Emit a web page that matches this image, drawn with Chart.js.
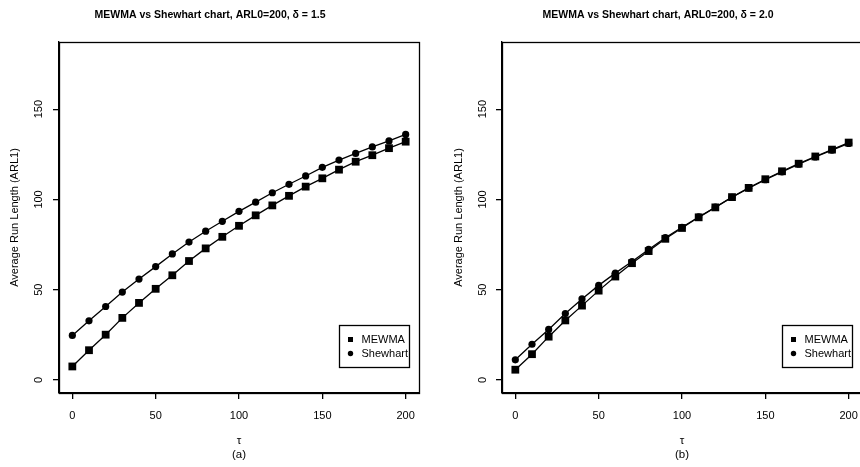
<!DOCTYPE html>
<html>
<head>
<meta charset="utf-8">
<title>MEWMA vs Shewhart</title>
<script src="https://cdn.jsdelivr.net/npm/chart.js@4.4.0/dist/chart.umd.min.js"></script>
<style>
  html, body { margin: 0; padding: 0; background: #fff; overflow: hidden; }
  #wrap { position: relative; width: 860px; height: 467px; overflow: hidden; }
  #panelA { position: absolute; left: 0; top: 0; }
  #panelB { position: absolute; left: 430px; top: 0; }
</style>
</head>
<body>
<div id="wrap">
  <canvas id="panelA" width="430" height="467"></canvas>
  <canvas id="panelB" width="440" height="467"></canvas>
</div>
<script>
// valores (tau = 0..200 de 10 em 10)
const tau = [0, 10, 20, 30, 40, 50, 60, 70, 80, 90, 100, 110, 120, 130, 140, 150, 160, 170, 180, 190, 200];
const xTicks = [0, 50, 100, 150, 200];
const yTicks = [0, 50, 100, 150];

// painel (a), delta = 1.5
const mewmaA = [7.5, 16.5, 25.1, 34.4, 42.7, 50.5, 58, 65.9, 72.9, 79.3, 85.4, 91.2, 96.7, 102, 107.1, 111.7, 116.5, 120.9, 124.5, 128.4, 132];
const shewhartA = [24.7, 32.8, 40.7, 48.7, 55.9, 62.8, 69.8, 76.4, 82.4, 87.9, 93.4, 98.5, 103.7, 108.4, 113, 117.8, 121.8, 125.5, 129.1, 132.4, 136];

// painel (b), delta = 2.0
const mewmaB = [5.7, 14.3, 24, 33, 41.2, 49.5, 57.3, 64.7, 71.4, 78.2, 84.2, 90.1, 95.6, 101.3, 106.4, 111.2, 115.6, 119.8, 123.8, 127.6, 131.5];
const shewhartB = [11.2, 19.8, 28, 36.8, 44.9, 52.4, 59.2, 65.6, 72.3, 78.8, 84.6, 90.3, 95.7, 101.2, 106.2, 110.9, 115.3, 119.5, 123.5, 127.3, 131];

const ink = '#000';
const fontFamily = "'Liberation Sans', Arial, Helvetica, sans-serif";
Chart.defaults.font.family = fontFamily;
Chart.defaults.color = ink;

// caixa em volta da area do grafico (estilo R)
const plotBox = {
  id: 'plotBox',
  afterDraw(chart) {
    const { ctx, chartArea } = chart;
    ctx.save();
    ctx.strokeStyle = ink;
    ctx.lineWidth = 1.3;
    ctx.strokeRect(Math.round(chartArea.left) + 0.5, Math.round(chartArea.top) + 0.5,
      Math.round(chartArea.right - chartArea.left), Math.round(chartArea.bottom - chartArea.top));
    ctx.restore();
  }
};

// titulo do painel
const panelTitle = {
  id: 'panelTitle',
  afterDraw(chart, args, opts) {
    const ctx = chart.ctx;
    ctx.save();
    ctx.font = `bold 10.5px ${fontFamily}`;
    ctx.fillStyle = ink;
    ctx.textAlign = 'center';
    ctx.textBaseline = 'middle';
    ctx.fillText(opts.text, opts.x, opts.y);
    ctx.restore();
  }
};

// legenda com moldura dentro do grafico, canto inferior direito
const boxLegend = {
  id: 'boxLegend',
  afterDraw(chart) {
    const { ctx, chartArea } = chart;
    const w = 70, h = 42;
    const x0 = Math.round(chartArea.right - 10 - w) + 0.5;
    const y0 = Math.round(chartArea.bottom - 26 - h) + 0.5;
    ctx.save();
    ctx.fillStyle = '#fff';
    ctx.fillRect(x0, y0, w, h);
    ctx.strokeStyle = ink;
    ctx.lineWidth = 1.3;
    ctx.strokeRect(x0, y0, w, h);
    ctx.font = `11px ${fontFamily}`;
    ctx.textBaseline = 'middle';
    ctx.textAlign = 'left';
    ctx.fillStyle = ink;
    chart.data.datasets.forEach((ds, i) => {
      const y = y0 + 14 + i * 14;
      if (ds.pointStyle === 'rect') {
        ctx.fillRect(x0 + 8.5, y - 2.5, 5, 5);
      } else {
        ctx.beginPath();
        ctx.arc(x0 + 11, y, 2.7, 0, Math.PI * 2);
        ctx.fill();
      }
      ctx.fillText(ds.label, x0 + 22, y);
    });
    ctx.restore();
  }
};

function criarPainel(canvasId, mewma, shewhart, cfg) {
  const ctx = document.getElementById(canvasId);

  const data = {
    datasets: [
      {
        label: 'MEWMA',
        data: tau.map((t, i) => ({ x: t, y: mewma[i] })),
        borderColor: ink,
        borderWidth: 1.3,
        pointStyle: 'rect',
        pointRadius: 5.5,
        pointBackgroundColor: ink,
        pointBorderWidth: 0,
        tension: 0,
      },
      {
        label: 'Shewhart',
        data: tau.map((t, i) => ({ x: t, y: shewhart[i] })),
        borderColor: ink,
        borderWidth: 1.3,
        pointStyle: 'circle',
        pointRadius: 3.6,
        pointBackgroundColor: ink,
        pointBorderWidth: 0,
        tension: 0,
      },
    ],
  };

  const options = {
    responsive: false,
    animation: false,
    layout: { padding: { top: 42, right: cfg.padRight, left: 0, bottom: 0 } },
    plugins: {
      legend: { display: false },
      tooltip: { enabled: false },
      panelTitle: { text: cfg.title, x: cfg.titleX, y: 15 },
    },
    scales: {
      x: {
        type: 'linear',
        min: -8,
        max: 208,
        afterBuildTicks: (s) => { s.ticks = xTicks.map((v) => ({ value: v })); },
        afterFit: (s) => { s.height = 74; },
        grid: { drawOnChartArea: false, drawTicks: true, tickLength: 6, color: ink, lineWidth: 1.3 },
        border: { display: true, color: ink, width: 1.3 },
        ticks: { padding: 10, maxRotation: 0, font: { size: 11 } },
        title: {
          display: true,
          text: ['τ', cfg.label],
          font: { size: 11.5, lineHeight: 1.25 },
          padding: { top: 0, bottom: 5 },
        },
      },
      y: {
        type: 'linear',
        min: -7.2,
        max: 187.2,
        afterBuildTicks: (s) => { s.ticks = yTicks.map((v) => ({ value: v })); },
        afterFit: (s) => { s.width = cfg.yWidth; },
        grid: { drawOnChartArea: false, drawTicks: true, tickLength: 6, color: ink, lineWidth: 1.3 },
        border: { display: true, color: ink, width: 1.3 },
        ticks: { minRotation: 90, maxRotation: 90, crossAlign: 'center', padding: cfg.yTickPad, font: { size: 11 } },
        title: {
          display: true,
          text: 'Average Run Length (ARL1)',
          font: { size: 11, lineHeight: 1.2 },
          padding: { top: cfg.yTitlePad, bottom: 0 },
        },
      },
    },
  };

  return new Chart(ctx, {
    type: 'line',
    data: data,
    options: options,
    plugins: [plotBox, panelTitle, boxLegend],
  });
}

criarPainel('panelA', mewmaA, shewhartA, {
  title: 'MEWMA vs Shewhart chart, ARL0=200, δ = 1.5',
  label: '(a)',
  titleX: 210,
  padRight: 11,
  yWidth: 59,
  yTickPad: 5,
  yTitlePad: 8.4,
});

criarPainel('panelB', mewmaB, shewhartB, {
  title: 'MEWMA vs Shewhart chart, ARL0=200, δ = 2.0',
  label: '(b)',
  titleX: 228,
  padRight: 8,
  yWidth: 72,
  yTickPad: 4,
  yTitlePad: 22.4,
});
</script>
</body>
</html>
